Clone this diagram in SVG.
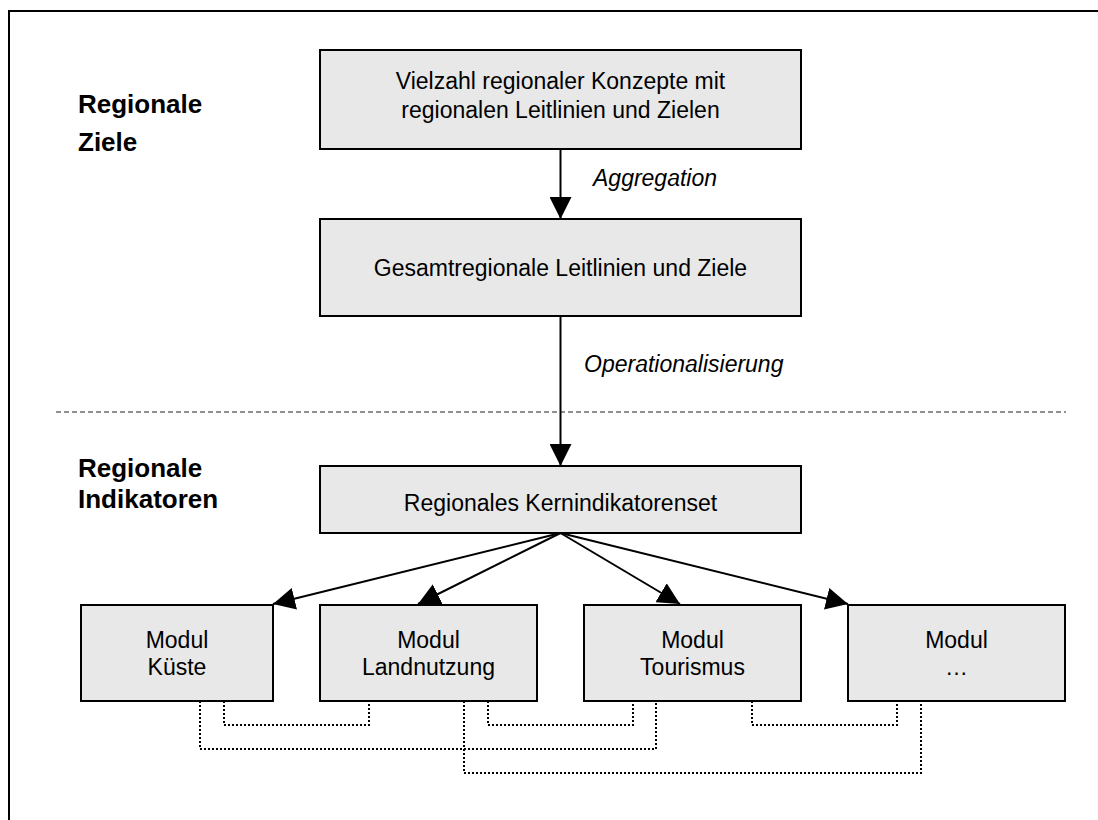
<svg xmlns="http://www.w3.org/2000/svg" width="1098" height="820" viewBox="0 0 1098 820">
<style>
.box{fill:#e8e8e8;stroke:#000;stroke-width:2}
.t{font-family:"Liberation Sans",Arial,sans-serif;font-size:23px;fill:#000;text-anchor:middle}
.h{font-family:"Liberation Sans",Arial,sans-serif;font-size:26px;font-weight:bold;fill:#000}
.i{font-family:"Liberation Sans",Arial,sans-serif;font-size:23px;font-style:italic;fill:#000}
.arr{stroke:#000;stroke-width:2;fill:none;marker-end:url(#ah)}
.dot{stroke:#000;stroke-width:2;fill:none;stroke-dasharray:2 2}
</style>
<defs>
<marker id="ah" markerUnits="userSpaceOnUse" markerWidth="22" markerHeight="22" viewBox="0 0 20 20" refX="20" refY="10" orient="auto">
<path d="M0,0 L20,10 L0,20 Z" fill="#000"/>
</marker>
</defs>
<rect x="0" y="0" width="1098" height="820" fill="#fff"/>
<path d="M9,822 V11 H1100" fill="none" stroke="#000" stroke-width="2"/>
<g id="label-ziele"><text class="h" x="78" y="113">Regionale</text><text class="h" x="78" y="151">Ziele</text></g>
<g id="label-indikatoren"><text class="h" x="78" y="477">Regionale</text><text class="h" x="78" y="508">Indikatoren</text></g>
<line x1="56" y1="412" x2="1066" y2="412" stroke="#222" stroke-width="1" stroke-dasharray="5 3"/>
<g id="n-konzepte"><rect class="box" x="320" y="50" width="481" height="99"/><text class="t" x="560.5" y="89">Vielzahl regionaler Konzepte mit</text><text class="t" x="560.5" y="118">regionalen Leitlinien und Zielen</text></g>
<g id="n-gesamt"><rect class="box" x="320" y="219" width="481" height="97"/><text class="t" x="560.5" y="276">Gesamtregionale Leitlinien und Ziele</text></g>
<g id="n-kern"><rect class="box" x="320" y="466" width="481" height="67"/><text class="t" x="560.5" y="511">Regionales Kernindikatorenset</text></g>
<g id="n-kueste"><rect class="box" x="81" y="605" width="192" height="96"/><text class="t" x="177" y="648">Modul</text><text class="t" x="177" y="675">Küste</text></g>
<g id="n-land"><rect class="box" x="320" y="605" width="217" height="96"/><text class="t" x="428.5" y="648">Modul</text><text class="t" x="428.5" y="675">Landnutzung</text></g>
<g id="n-tour"><rect class="box" x="584" y="605" width="217" height="96"/><text class="t" x="692.5" y="648">Modul</text><text class="t" x="692.5" y="675">Tourismus</text></g>
<g id="n-etc"><rect class="box" x="848" y="605" width="217" height="96"/><text class="t" x="956.5" y="648">Modul</text><text class="t" x="956.5" y="675">…</text></g>
<g id="connectors">
<line class="arr" x1="560.5" y1="149" x2="560.5" y2="219"/>
<text class="i" x="593" y="186">Aggregation</text>
<line class="arr" x1="560.5" y1="316" x2="560.5" y2="466"/>
<text class="i" x="584" y="372">Operationalisierung</text>
<line class="arr" x1="560.5" y1="533" x2="273" y2="604"/>
<line class="arr" x1="560.5" y1="533" x2="418" y2="604"/>
<line class="arr" x1="560.5" y1="533" x2="680" y2="604"/>
<line class="arr" x1="560.5" y1="533" x2="848" y2="604"/>
<path class="dot" d="M224,701 V725 H369 V701"/>
<path class="dot" d="M200,701 V749 H656 V701"/>
<path class="dot" d="M488,701 V725 H633 V701"/>
<path class="dot" d="M464,701 V773 H921 V701"/>
<path class="dot" d="M752,701 V725 H897 V701"/>
</g>
</svg>
